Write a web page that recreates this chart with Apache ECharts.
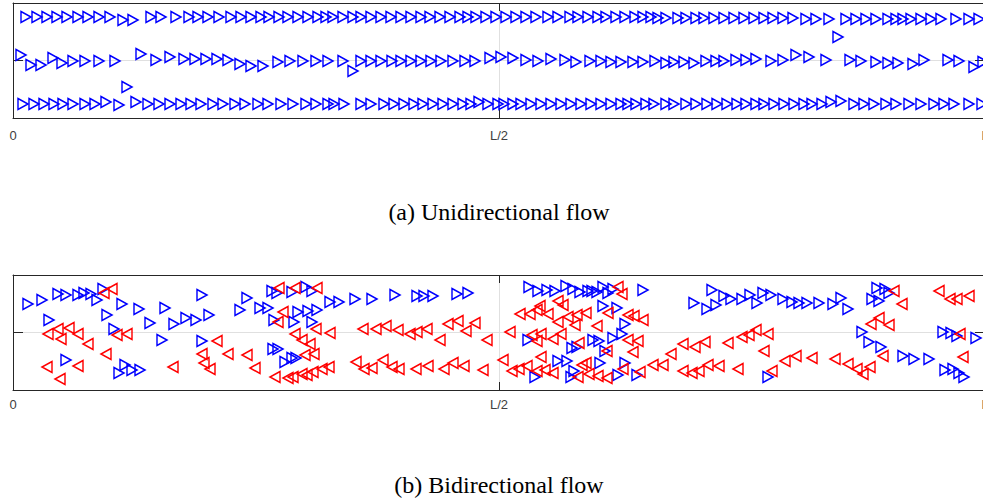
<!DOCTYPE html>
<html><head><meta charset="utf-8">
<script src="https://cdn.jsdelivr.net/npm/echarts@6/dist/echarts.min.js"></script>
<style>html,body{margin:0;padding:0;background:#fff}#c{width:983px;height:502px}</style>
</head><body><div id="c"></div>
<script>
// Road length L and width W (arbitrary units)
const L = 972, W = 115;
const xTickValues = [0, L / 2, L];
const xTickLabels = ['0', 'L/2', 'L'];
const captionA = '(a) Unidirectional flow';
const captionB = '(b) Bidirectional flow';

// (a) unidirectional flow: right-moving pedestrians, three lanes [x, y]
const uniLaneTop = [[13,101],[24,101],[34,101],[44,101],[54,101],[65,101],[75,101],[86,101],[97,101],[110,98],[120,98],[138,101],[148,101],[163,101],[176,101],[185,101],[195,101],[206,101],[218,101],[228,101],[238,101],[248,101],[256,101],[266,101],[275,101],[285,101],[295,101],[305,101],[313,101],[320,101],[330,101],[340,101],[348,101],[358,101],[368,101],[378,101],[388,101],[398,101],[408,101],[417,101],[427,101],[437,101],[447,101],[455,101],[463,101],[473,101],[483,101],[493,101],[503,101],[513,101],[523,101],[535,101],[545,101],[557,101],[565,101],[575,101],[585,101],[593,101],[603,101],[612,101],[622,101],[630,101],[638,101],[645,100],[653,100],[665,100],[673,100],[683,100],[691,100],[701,100],[711,100],[721,100],[731,100],[741,100],[751,100],[760,100],[770,100],[780,100],[793,99],[803,99],[816,99],[825,81],[833,99],[843,99],[853,99],[863,99],[875,99],[883,99],[890,99],[898,99],[908,99],[918,99],[928,99],[943,99],[956,99],[966,99]];
const uniLaneMid = [[8,63],[18,53],[28,53],[40,60],[49,55],[60,57],[72,57],[86,57],[102,57],[114,31],[128,64],[143,58],[157,61],[171,59],[182,59],[193,59],[204,59],[215,58],[227,54],[238,52],[250,52],[265,56],[277,57],[290,57],[303,57],[315,57],[330,57],[340,47],[348,57],[358,57],[368,57],[379,57],[388,57],[398,57],[408,57],[418,57],[428,57],[440,57],[452,57],[462,57],[477,60],[488,61],[500,60],[513,58],[525,57],[538,59],[552,58],[563,56],[577,57],[588,57],[598,56],[608,56],[620,56],[630,56],[642,57],[653,55],[661,56],[671,56],[681,55],[693,57],[703,57],[711,57],[723,58],[733,58],[743,59],[758,57],[770,58],[783,63],[796,61],[813,58],[837,58],[848,57],[863,56],[875,55],[885,55],[900,54],[911,58],[935,58],[946,57],[961,51],[970,56]];
const uniLaneLow = [[10,14],[21,14],[31,14],[41,14],[50,14],[60,14],[72,14],[82,14],[93,16],[106,13],[123,16],[135,14],[146,14],[157,14],[168,14],[178,14],[188,14],[200,14],[210,14],[222,14],[232,14],[245,14],[255,14],[268,14],[280,14],[293,14],[303,14],[315,14],[321,14],[331,14],[348,14],[358,14],[371,14],[381,14],[391,14],[401,14],[410,14],[420,14],[430,14],[440,14],[450,14],[458,14],[466,16],[475,14],[485,14],[491,14],[500,14],[508,14],[518,14],[528,14],[538,14],[548,14],[558,14],[568,14],[578,14],[588,14],[598,14],[608,14],[615,14],[623,14],[633,14],[641,14],[653,14],[661,14],[673,14],[683,14],[694,14],[704,14],[714,14],[724,14],[733,14],[743,14],[751,14],[761,14],[771,14],[781,14],[791,14],[799,14],[809,14],[818,16],[828,17],[841,14],[851,14],[861,14],[873,14],[883,14],[896,14],[908,14],[921,14],[931,14],[941,14],[956,14],[969,14]];

// (b) bidirectional flow: right-moving (blue) and left-moving (red) pedestrians [x, y]
const biRight = [[15,86],[29,90],[45,96],[53,95],[65,95],[71,97],[78,96],[84,90],[90,101],[36,70],[94,75],[109,86],[126,81],[137,67],[152,82],[161,66],[101,61],[149,50],[53,30],[106,17],[112,25],[119,20],[127,20],[189,95],[173,72],[183,70],[196,75],[234,92],[227,80],[247,82],[255,82],[259,99],[264,97],[261,70],[279,98],[293,103],[299,99],[285,78],[295,79],[304,80],[281,68],[299,68],[317,88],[326,88],[189,49],[260,41],[265,41],[272,28],[279,32],[283,32],[342,91],[359,91],[382,95],[404,94],[411,94],[420,94],[444,96],[455,97],[516,103],[525,99],[534,100],[542,99],[553,104],[560,101],[567,98],[575,99],[579,99],[584,98],[590,103],[595,97],[600,101],[630,100],[590,84],[604,82],[612,66],[609,56],[600,52],[515,50],[580,50],[586,49],[559,42],[564,43],[592,39],[545,29],[554,29],[587,27],[612,27],[522,13],[561,19],[558,13],[605,15],[624,15],[699,100],[681,87],[694,81],[703,85],[711,94],[718,91],[729,91],[737,95],[744,87],[750,97],[758,95],[770,91],[779,88],[786,87],[794,87],[755,13],[806,87],[820,86],[828,92],[835,81],[864,102],[872,101],[876,97],[859,91],[866,89],[849,58],[856,48],[868,43],[930,58],[938,57],[944,54],[963,52],[890,34],[901,31],[916,31],[932,20],[940,21],[946,17],[951,13]];
const biLeft = [[91,97],[99,101],[35,56],[45,61],[48,51],[56,62],[65,56],[75,46],[104,55],[114,56],[93,36],[34,23],[65,24],[47,11],[160,23],[266,102],[282,102],[304,102],[270,78],[265,68],[204,49],[189,36],[191,27],[197,21],[215,36],[234,35],[242,22],[282,56],[289,50],[297,46],[303,61],[317,57],[292,35],[301,36],[262,13],[275,12],[280,13],[289,16],[294,15],[300,18],[309,21],[316,23],[350,61],[363,61],[373,64],[385,60],[397,56],[404,58],[414,61],[427,50],[435,66],[445,69],[453,59],[462,67],[474,50],[343,28],[351,21],[359,22],[370,30],[379,23],[386,21],[403,21],[415,24],[431,21],[440,27],[451,24],[470,20],[605,103],[609,96],[507,76],[517,76],[527,84],[524,80],[535,76],[545,89],[550,85],[545,68],[555,73],[564,75],[573,77],[562,65],[595,77],[584,64],[615,75],[621,74],[630,70],[497,58],[519,55],[528,56],[524,49],[540,51],[548,56],[566,47],[615,50],[625,49],[594,39],[620,38],[490,30],[528,33],[499,19],[506,21],[514,24],[524,19],[532,20],[540,17],[569,25],[573,27],[565,13],[576,16],[585,14],[594,12],[610,21],[627,18],[640,25],[650,25],[658,36],[670,46],[682,43],[692,48],[715,47],[729,53],[736,55],[743,60],[755,56],[751,39],[670,19],[679,17],[686,19],[695,25],[706,24],[725,21],[759,19],[772,29],[783,34],[799,32],[881,99],[889,86],[926,99],[937,91],[944,91],[956,94],[858,66],[866,72],[876,65],[947,56],[950,33],[870,34],[822,31],[835,26],[844,21],[850,16],[857,23]];

const AX = '#262626', LABC = '#404040', GRIDC = '#e0e0e0';
const RIGHT_TRI = 'path://M0,0L10,5.5L0,11Z';
const LEFT_TRI = 'path://M10,0L0,5.5L10,11Z';

function labelFor(v) {
  const i = xTickValues.indexOf(v);
  return i >= 0 ? xTickLabels[i] : '';
}
function xAxesFor(g, margin) {
  const base = {
    gridIndex: g, type: 'value', min: 0, max: L, interval: L / 2,
    axisLine: { show: true, onZero: false, lineStyle: { color: AX, width: 1 } },
    axisTick: { show: true, inside: true, length: 8, lineStyle: { color: AX } }
  };
  return [
    Object.assign({}, base, {
      position: 'bottom',
      axisLabel: { show: true, formatter: labelFor, color: LABC, fontSize: 13, margin: margin, fontFamily: 'Liberation Sans, Arial, sans-serif', showMinLabel: true, showMaxLabel: true, hideOverlap: false },
      splitLine: { show: true, lineStyle: { color: GRIDC, width: 1 } }
    }),
    Object.assign({}, base, {
      position: 'top', axisLabel: { show: false }, splitLine: { show: false }
    })
  ];
}
function yAxesFor(g) {
  const base = {
    gridIndex: g, type: 'value', min: 0, max: W, interval: W / 2,
    axisLine: { show: true, onZero: false, lineStyle: { color: AX, width: 1 } },
    axisTick: { show: true, inside: true, length: 10, lineStyle: { color: AX } },
    axisLabel: { show: false }
  };
  return [
    Object.assign({}, base, { position: 'left', splitLine: { show: true, lineStyle: { color: GRIDC, width: 1 } } }),
    Object.assign({}, base, { position: 'right', splitLine: { show: false } })
  ];
}
function scatter(data, xi, yi, sym, color) {
  return {
    type: 'scatter', xAxisIndex: xi, yAxisIndex: yi, data: data,
    symbol: sym, symbolSize: [10, 11], silent: true, animation: false,
    itemStyle: { color: 'rgba(255,255,255,0)', borderColor: color, borderWidth: 1.5, opacity: 1 },
    emphasis: { disabled: true }
  };
}

const chart = echarts.init(document.getElementById('c'), null, { renderer: 'svg' });
chart.setOption({
  animation: false,
  backgroundColor: '#ffffff',
  grid: [
    { left: 13, top: 3, width: 972, height: 115, containLabel: false, outerBoundsMode: 'none' },
    { left: 13, top: 275, width: 972, height: 115, containLabel: false, outerBoundsMode: 'none' }
  ],
  xAxis: xAxesFor(0, 11).concat(xAxesFor(1, 8)),
  yAxis: yAxesFor(0).concat(yAxesFor(1)),
  series: [
    scatter(uniLaneTop, 0, 0, RIGHT_TRI, '#0000ff'),
    scatter(uniLaneMid, 0, 0, RIGHT_TRI, '#0000ff'),
    scatter(uniLaneLow, 0, 0, RIGHT_TRI, '#0000ff'),
    scatter(biRight, 2, 2, RIGHT_TRI, '#0000ff'),
    scatter(biLeft, 2, 2, LEFT_TRI, '#ff0000')
  ],
  graphic: [
    { type: 'text', x: 499, y: 212, silent: true, style: { text: captionA, font: '24px "Liberation Serif", "Times New Roman", serif', fill: '#000', textAlign: 'center', textVerticalAlign: 'middle' } },
    { type: 'text', x: 499, y: 485, silent: true, style: { text: captionB, font: '24px "Liberation Serif", "Times New Roman", serif', fill: '#000', textAlign: 'center', textVerticalAlign: 'middle' } }
  ]
});
</script>
</body></html>
